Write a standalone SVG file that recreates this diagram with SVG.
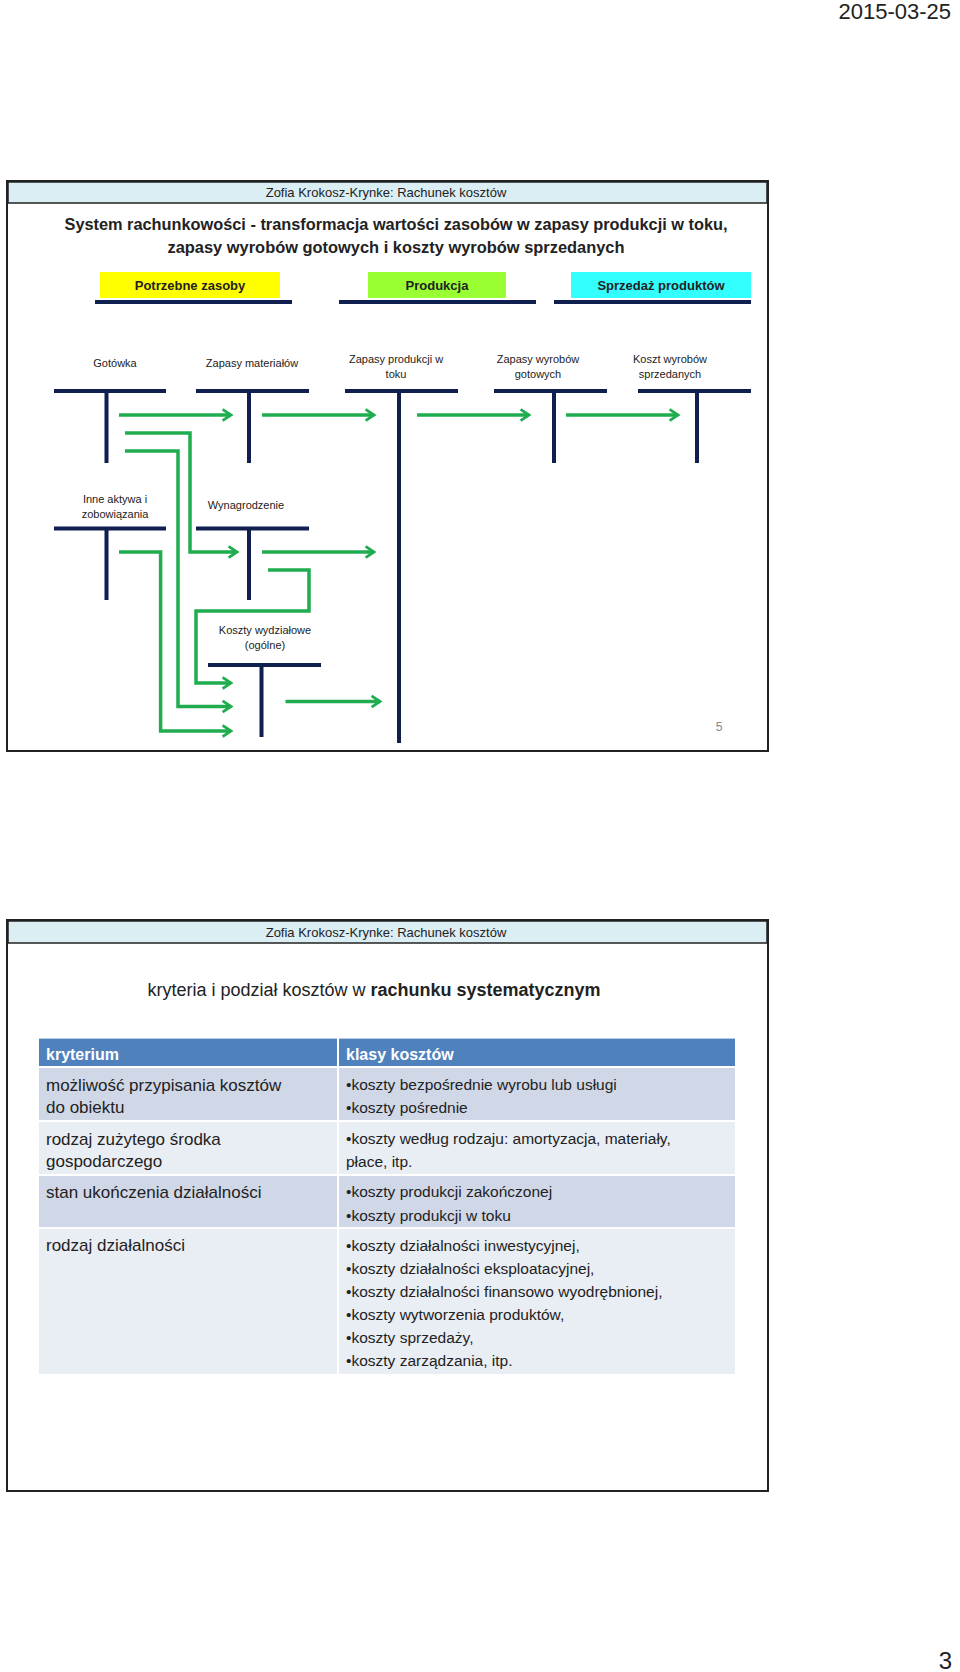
<svg xmlns="http://www.w3.org/2000/svg" width="960" height="1672" viewBox="0 0 960 1672">
<style>
.t{font-family:"Liberation Sans",Arial,sans-serif;fill:#222}
.lbl{font-size:11px;text-anchor:middle}
.nv{stroke:#0f1f4f;stroke-width:4;fill:none}
.gr{stroke:#1fad4f;stroke-width:3.5;fill:none;marker-end:url(#ah)}
.hdr{font-size:13px;text-anchor:middle}
.lc{font-size:17px}
.rc{font-size:15.5px}
</style>
<defs>
<marker id="ah" viewBox="0 0 10 10" refX="8" refY="5" markerWidth="4" markerHeight="4" orient="auto" markerUnits="strokeWidth">
<polyline points="2,1 8,5 2,9" fill="none" stroke="#1fad4f" stroke-width="2"/>
</marker>
</defs>
<rect width="960" height="1672" fill="#fff"/>
<text class="t" x="951" y="19" font-size="22" text-anchor="end">2015-03-25</text>
<text class="t" x="952" y="1669" font-size="24" text-anchor="end">3</text>

<g id="slide1">
<rect x="7" y="181" width="761" height="570" fill="#fff" stroke="#222" stroke-width="2"/>
<rect x="8" y="182" width="759" height="21" fill="#dbeef4" stroke="#222" stroke-width="1.5"/>
<text class="t hdr" x="386" y="197">Zofia Krokosz-Krynke: Rachunek kosztów</text>
<text class="t" x="396" y="230" font-size="17" font-weight="bold" text-anchor="middle" textLength="663" lengthAdjust="spacingAndGlyphs">System rachunkowości - transformacja wartości zasobów w zapasy produkcji w toku,</text>
<text class="t" x="396" y="253" font-size="17" font-weight="bold" text-anchor="middle" textLength="457" lengthAdjust="spacingAndGlyphs">zapasy wyrobów gotowych i koszty wyrobów sprzedanych</text>
</g>
<g id="phase1"><rect x="100" y="272" width="180" height="26" fill="#ffff00"/><text class="t" x="190" y="290" font-size="13" font-weight="bold" text-anchor="middle">Potrzebne zasoby</text><line class="nv" x1="95" y1="302" x2="292" y2="302"/></g>
<g id="phase2"><rect x="368" y="272" width="138" height="26" fill="#99ff33"/><text class="t" x="437" y="290" font-size="13" font-weight="bold" text-anchor="middle">Produkcja</text><line class="nv" x1="339" y1="302" x2="536" y2="302"/></g>
<g id="phase3"><rect x="571" y="272" width="180" height="26" fill="#33ffff"/><text class="t" x="661" y="290" font-size="13" font-weight="bold" text-anchor="middle">Sprzedaż produktów</text><line class="nv" x1="554" y1="302" x2="751" y2="302"/></g>

<g id="gotowka"><text class="t lbl" x="115" y="367">Gotówka</text><path class="nv" d="M54 391H166M106.5 391V463"/></g>
<g id="materialy"><text class="t lbl" x="252" y="367">Zapasy materiałów</text><path class="nv" d="M196 391H309M249 391V463"/></g>
<g id="produkcja"><text class="t lbl" x="396" y="363">Zapasy produkcji w</text><text class="t lbl" x="396" y="378">toku</text><path class="nv" d="M345 391H458M399 391V743"/></g>
<g id="wyroby"><text class="t lbl" x="538" y="363">Zapasy wyrobów</text><text class="t lbl" x="538" y="378">gotowych</text><path class="nv" d="M494 391H607M554 391V463"/></g>
<g id="koszt"><text class="t lbl" x="670" y="363">Koszt wyrobów</text><text class="t lbl" x="670" y="378">sprzedanych</text><path class="nv" d="M638 391H751M697 391V463"/></g>
<g id="inne"><text class="t lbl" x="115" y="503">Inne aktywa i</text><text class="t lbl" x="115" y="518">zobowiązania</text><path class="nv" d="M54 528.5H166M106.5 528.5V600"/></g>
<g id="wynagrodzenie"><text class="t lbl" x="246" y="509">Wynagrodzenie</text><path class="nv" d="M196 528.5H309M249 528.5V600"/></g>
<g id="wydzialowe"><text class="t lbl" x="265" y="634">Koszty wydziałowe</text><text class="t lbl" x="265" y="649">(ogólne)</text><path class="nv" d="M208 665H321M261.5 665V737"/></g>

<g id="connectors">
<path class="gr" d="M119 415H231"/>
<path class="gr" d="M262 415H374"/>
<path class="gr" d="M417 415H529"/>
<path class="gr" d="M566 415H678"/>
<path class="gr" d="M125 433H190V552H237"/>
<path class="gr" d="M125 451H178V706.5H231"/>
<path class="gr" d="M262 552H374"/>
<path class="gr" d="M119 552H160.6V731H231"/>
<path class="gr" d="M268 570H309V611H196V683H231"/>
<path class="gr" d="M285.5 701.5H380"/>
</g>
<text class="t" x="719" y="731" font-size="12" fill="#888" text-anchor="middle" style="fill:#888">5</text>

<g id="slide2">
<rect x="7" y="920" width="761" height="571" fill="#fff" stroke="#222" stroke-width="2"/>
<rect x="8" y="921" width="759" height="22" fill="#dbeef4" stroke="#222" stroke-width="1.5"/>
<text class="t hdr" x="386" y="937">Zofia Krokosz-Krynke: Rachunek kosztów</text>
<text class="t" x="374" y="996" font-size="18" text-anchor="middle">kryteria i podział kosztów w <tspan font-weight="bold">rachunku systematycznym</tspan></text>
</g>
<g id="table">
<rect x="39" y="1038.6" width="696" height="28.4" fill="#4f81bd"/>
<rect x="39" y="1067" width="696" height="54" fill="#d0d8e8"/>
<rect x="39" y="1121" width="696" height="54" fill="#e9edf4"/>
<rect x="39" y="1175" width="696" height="53" fill="#d0d8e8"/>
<rect x="39" y="1228" width="696" height="146" fill="#e9edf4"/>
<path d="M39 1067H735M39 1121H735M39 1175H735M39 1228H735M338 1038V1374" stroke="#fff" stroke-width="2"/>
<text class="t" x="46" y="1060" font-size="16" font-weight="bold" style="fill:#fff">kryterium</text>
<text class="t" x="346" y="1060" font-size="16" font-weight="bold" style="fill:#fff">klasy kosztów</text>
<text class="t lc" x="46" y="1091">możliwość przypisania kosztów</text>
<text class="t lc" x="46" y="1113">do obiektu</text>
<text class="t lc" x="46" y="1145">rodzaj zużytego środka</text>
<text class="t lc" x="46" y="1167">gospodarczego</text>
<text class="t lc" x="46" y="1198">stan ukończenia działalności</text>
<text class="t lc" x="46" y="1251">rodzaj działalności</text>
<text class="t rc" x="346" y="1090">•koszty bezpośrednie wyrobu lub usługi</text>
<text class="t rc" x="346" y="1113">•koszty pośrednie</text>
<text class="t rc" x="346" y="1144">•koszty według rodzaju:  amortyzacja, materiały,</text>
<text class="t rc" x="346" y="1167">płace, itp.</text>
<text class="t rc" x="346" y="1197">•koszty produkcji zakończonej</text>
<text class="t rc" x="346" y="1221">•koszty produkcji w toku</text>
<text class="t rc" x="346" y="1251">•koszty działalności inwestycyjnej,</text>
<text class="t rc" x="346" y="1274">•koszty działalności eksploatacyjnej,</text>
<text class="t rc" x="346" y="1297">•koszty działalności finansowo wyodrębnionej,</text>
<text class="t rc" x="346" y="1320">•koszty wytworzenia produktów,</text>
<text class="t rc" x="346" y="1343">•koszty sprzedaży,</text>
<text class="t rc" x="346" y="1366">•koszty zarządzania, itp.</text>
</g>
</svg>
